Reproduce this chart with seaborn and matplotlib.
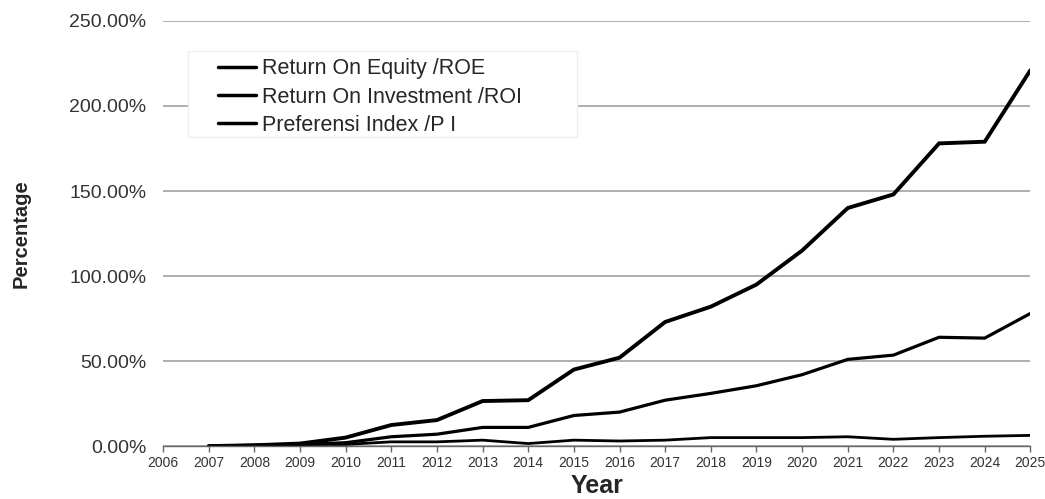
import matplotlib
matplotlib.use("Agg")
import matplotlib.pyplot as plt
import seaborn as sns
import pandas as pd
from matplotlib.ticker import FuncFormatter, MultipleLocator
from matplotlib.patches import Rectangle

years = list(range(2007, 2026))
roe = [0.0, 0.5, 1.5, 5.0, 12.4, 15.3, 26.5, 27.0, 45.0, 52.0, 73.0, 82.0, 95.0, 115.0, 140.0, 148.0, 178.0, 179.0, 221.0]
roi = [0.0, 0.5, 1.0, 2.0, 5.5, 7.0, 11.0, 11.0, 18.0, 20.0, 27.0, 31.0, 35.5, 42.0, 51.0, 53.5, 64.0, 63.5, 78.0]
pi_ = [0.0, 0.5, 1.0, 1.0, 2.5, 2.5, 3.5, 1.5, 3.5, 3.0, 3.5, 5.0, 5.0, 5.0, 5.5, 4.0, 5.0, 5.8, 6.3]
series_names = ["Return On Equity /ROE", "Return On Investment /ROI", "Preferensi Index /P I"]
xticks = list(range(2006, 2026))

df = pd.concat([
    pd.DataFrame({"Year": years, "Value": roe, "Series": series_names[0]}),
    pd.DataFrame({"Year": years, "Value": roi, "Series": series_names[1]}),
    pd.DataFrame({"Year": years, "Value": pi_, "Series": series_names[2]}),
])

sns.set_theme(style="white")
plt.rcParams['font.family'] = ['Liberation Sans', 'DejaVu Sans']

fig = plt.figure(figsize=(10.45, 4.99), dpi=100)
ax = fig.add_axes([0.156, 0.106, 0.830, 0.852])

sns.lineplot(data=df, x="Year", y="Value", hue="Series", hue_order=series_names,
             palette=["black", "black", "black"], ax=ax, legend=True)
widths = [2.8, 2.3, 2.0]
for ln, w in zip(ax.get_lines()[:3], widths):
    ln.set_linewidth(w)
    ln.set_solid_joinstyle("miter")

ax.set_xlim(2006, 2025)
ax.set_ylim(0, 250)
ax.yaxis.set_major_locator(MultipleLocator(50))
ax.yaxis.set_major_formatter(FuncFormatter(lambda v, p: f"{v:.2f}%"))
ax.set_xticks(xticks)
ax.set_xticklabels([str(t) for t in xticks])
ax.grid(axis="y", color="#a8a8a8", linewidth=1.3)
ax.set_axisbelow(True)
for s in ["top", "right", "left"]:
    ax.spines[s].set_visible(False)
ax.spines["bottom"].set_color("#666666")
ax.spines["bottom"].set_linewidth(1.0)
ax.tick_params(axis="x", bottom=True, length=4, width=1, color="#666666",
               labelsize=10, labelcolor="#333333", pad=3)
ax.tick_params(axis="y", left=False, labelsize=14, labelcolor="#333333", pad=6)

ax.set_xlabel("Year", fontsize=18, fontweight="bold", labelpad=3)
ax.set_ylabel("Percentage", fontsize=14.5, fontweight="bold", labelpad=28)

# legend background box
ax.add_patch(Rectangle((0.0288, 0.727), 0.4487, 0.202, transform=ax.transAxes,
                       facecolor="white", edgecolor="#eeeeee", linewidth=1.0, zorder=2.5))

leg = ax.legend(loc="upper left", bbox_to_anchor=(0.0634, 0.912), fontsize=15.5,
                frameon=False, handlelength=1.75, handletextpad=0.3,
                labelspacing=0.34, borderpad=0.0, borderaxespad=0)
leg.set_zorder(3)
for h in leg.get_lines():
    h.set_linewidth(2.5)

fig.savefig("out.png", dpi=100)
